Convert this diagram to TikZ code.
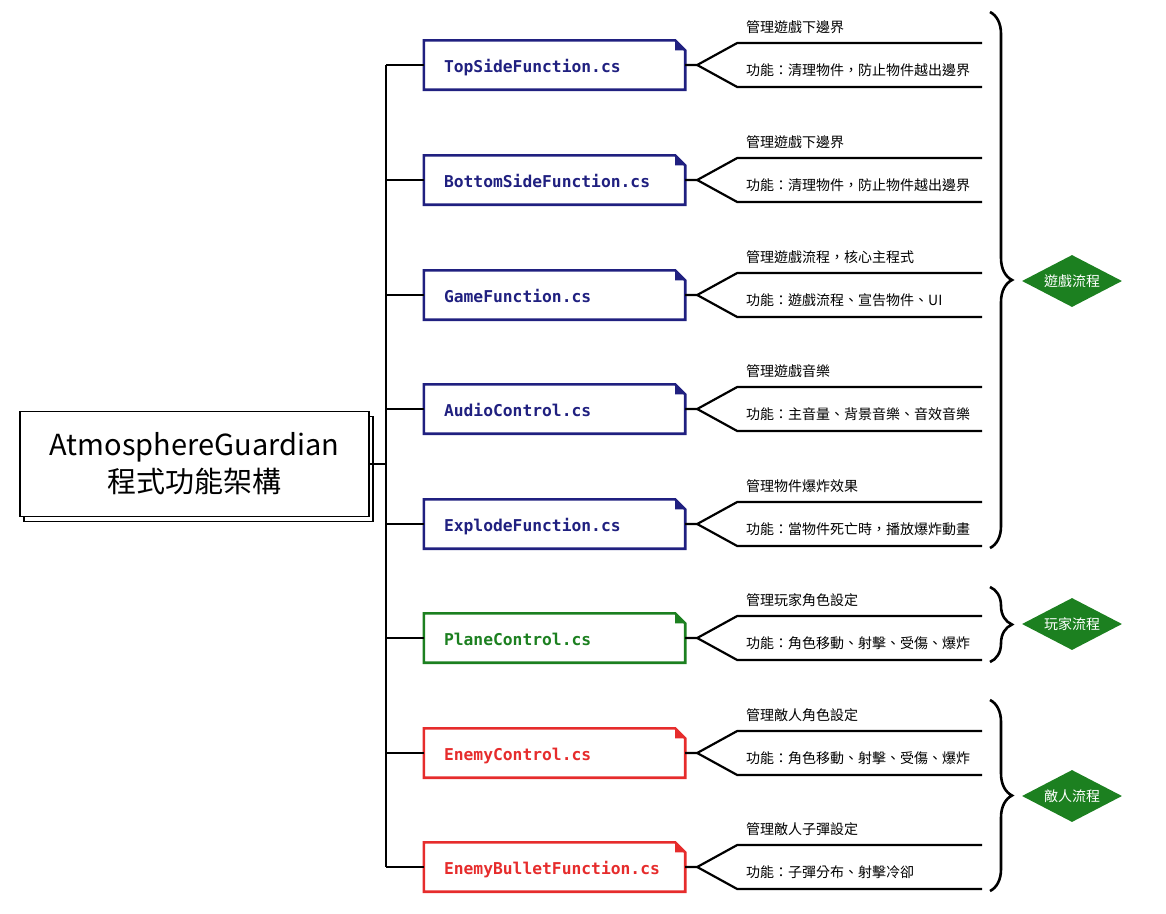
\documentclass[tikz,border=0pt]{standalone}
\usepackage{fontspec}
\setmainfont{Noto Sans CJK TC}
\newfontfamily\codefont{DejaVu Sans Mono}
\usetikzlibrary{shapes.geometric,shadows,decorations.pathreplacing}
\definecolor{navy}{RGB}{32,32,128}
\definecolor{leaf}{RGB}{28,128,32}
\definecolor{alarm}{RGB}{230,44,44}
\def\dogear[#1](#2){\draw[#1, line width=2.6pt, line join=miter] (#2.north west) -- ([xshift=-10pt]#2.north east) -- ([yshift=-10pt]#2.north east) -- (#2.south east) -- (#2.south west) -- cycle;
	\fill[#1] ([xshift=-10pt]#2.north east) -- ([xshift=-10pt,yshift=-10pt]#2.north east) -- ([yshift=-10pt]#2.north east) -- cycle;}
\def\fork(#1){\draw[conn] (#1.east) -- ++(12,0) coordinate (#1-k) -- ++(40,-22) -- ++(245,0) coordinate (#1-a);
	\draw[conn] (#1-k) -- ++(40,22) -- ++(245,0) coordinate (#1-b);}
\tikzset{
	file/.style={text width=221pt, inner xsep=20pt, inner ysep=0pt, minimum height=49pt, text height=16pt, text depth=1pt, align=left, font=\codefont\bfseries\fontsize{16.3}{18}\selectfont},
	conn/.style={line width=2.2pt},
	note/.style={anchor=west, inner sep=0pt, font=\fontsize{14}{16}\selectfont},
	flow/.style={diamond, aspect=2, fill=leaf, text=white, minimum width=100pt, minimum height=52pt, inner sep=0pt, font=\fontsize{14}{16}\selectfont},
	curly/.style={decorate, decoration={brace, amplitude=22pt}, line width=2.6pt},
}
\begin{document}
\begin{tikzpicture}[x=1pt, y=-1pt]
		%%%%% START %%%%%
		\useasboundingbox (0,0) rectangle (1166,913);
		
		\node[draw, fill=white, line width=1.8pt, general shadow={shadow xshift=4pt, shadow yshift=-5pt, draw=black, fill=white, line width=1.8pt}, minimum width=349pt, minimum height=105pt, align=center, font=\fontsize{29}{37}\selectfont] (main) at (194.5,464) {AtmosphereGuardian\\程式功能架構};
		
		\node[file, text=navy] (top) at (554.5,65) {TopSideFunction.cs};
		\node[file, text=navy] (bottom) at (554.5,180) {BottomSideFunction.cs};
		\node[file, text=navy] (game) at (554.5,295) {GameFunction.cs};
		\node[file, text=navy] (audio) at (554.5,409) {AudioControl.cs};
		\node[file, text=navy] (explode) at (554.5,524) {ExplodeFunction.cs};
		\node[file, text=leaf] (plane) at (554.5,638) {PlaneControl.cs};
		\node[file, text=alarm] (enemy) at (554.5,753) {EnemyControl.cs};
		\node[file, text=alarm] (bullet) at (554.5,867) {EnemyBulletFunction.cs};
		
		\dogear[navy](top)
		\dogear[navy](bottom)
		\dogear[navy](game)
		\dogear[navy](audio)
		\dogear[navy](explode)
		\dogear[leaf](plane)
		\dogear[alarm](enemy)
		\dogear[alarm](bullet)
		
		% trunk
		\coordinate (tr) at (386,465);
		\draw[conn] (top.west -| tr) -- (bullet.west -| tr);
		\draw[conn] (main.east) -- (main.east -| tr);
		\draw[conn] (top.west) -- (top.west -| tr);
		\draw[conn] (bottom.west) -- (bottom.west -| tr);
		\draw[conn] (game.west) -- (game.west -| tr);
		\draw[conn] (audio.west) -- (audio.west -| tr);
		\draw[conn] (explode.west) -- (explode.west -| tr);
		\draw[conn] (plane.west) -- (plane.west -| tr);
		\draw[conn] (enemy.west) -- (enemy.west -| tr);
		\draw[conn] (bullet.west) -- (bullet.west -| tr);
		
		\fork(top)
		\fork(bottom)
		\fork(game)
		\fork(audio)
		\fork(explode)
		\fork(plane)
		\fork(enemy)
		\fork(bullet)
		
		\node[note] (top-t1) at (746,27) {管理遊戲下邊界};
		\node[note] (top-t2) at (746,70) {功能：清理物件，防止物件越出邊界};
		\node[note] (bottom-t1) at (746,142) {管理遊戲下邊界};
		\node[note] (bottom-t2) at (746,185) {功能：清理物件，防止物件越出邊界};
		\node[note] (game-t1) at (746,257) {管理遊戲流程，核心主程式};
		\node[note] (game-t2) at (746,300) {功能：遊戲流程、宣告物件、UI};
		\node[note] (audio-t1) at (746,371) {管理遊戲音樂};
		\node[note] (audio-t2) at (746,414) {功能：主音量、背景音樂、音效音樂};
		\node[note] (explode-t1) at (746,486) {管理物件爆炸效果};
		\node[note] (explode-t2) at (746,529) {功能：當物件死亡時，播放爆炸動畫};
		\node[note] (plane-t1) at (746,600) {管理玩家角色設定};
		\node[note] (plane-t2) at (746,643) {功能：角色移動、射擊、受傷、爆炸};
		\node[note] (enemy-t1) at (746,715) {管理敵人角色設定};
		\node[note] (enemy-t2) at (746,758) {功能：角色移動、射擊、受傷、爆炸};
		\node[note] (bullet-t1) at (746,829) {管理敵人子彈設定};
		\node[note] (bullet-t2) at (746,872) {功能：子彈分布、射擊冷卻};
		
		% groups
		\draw[curly] (990,12) -- (990,548);
		\draw[curly] (990,587) -- (990,662);
		\draw[curly] (990,700) -- (990,891);
		
		\node[flow] (gameflow) at (1072,281) {遊戲流程};
		\node[flow] (playerflow) at (1072,624) {玩家流程};
		\node[flow] (enemyflow) at (1072,796) {敵人流程};
		
		%%%%% END %%%%%
\end{tikzpicture}
\end{document}
